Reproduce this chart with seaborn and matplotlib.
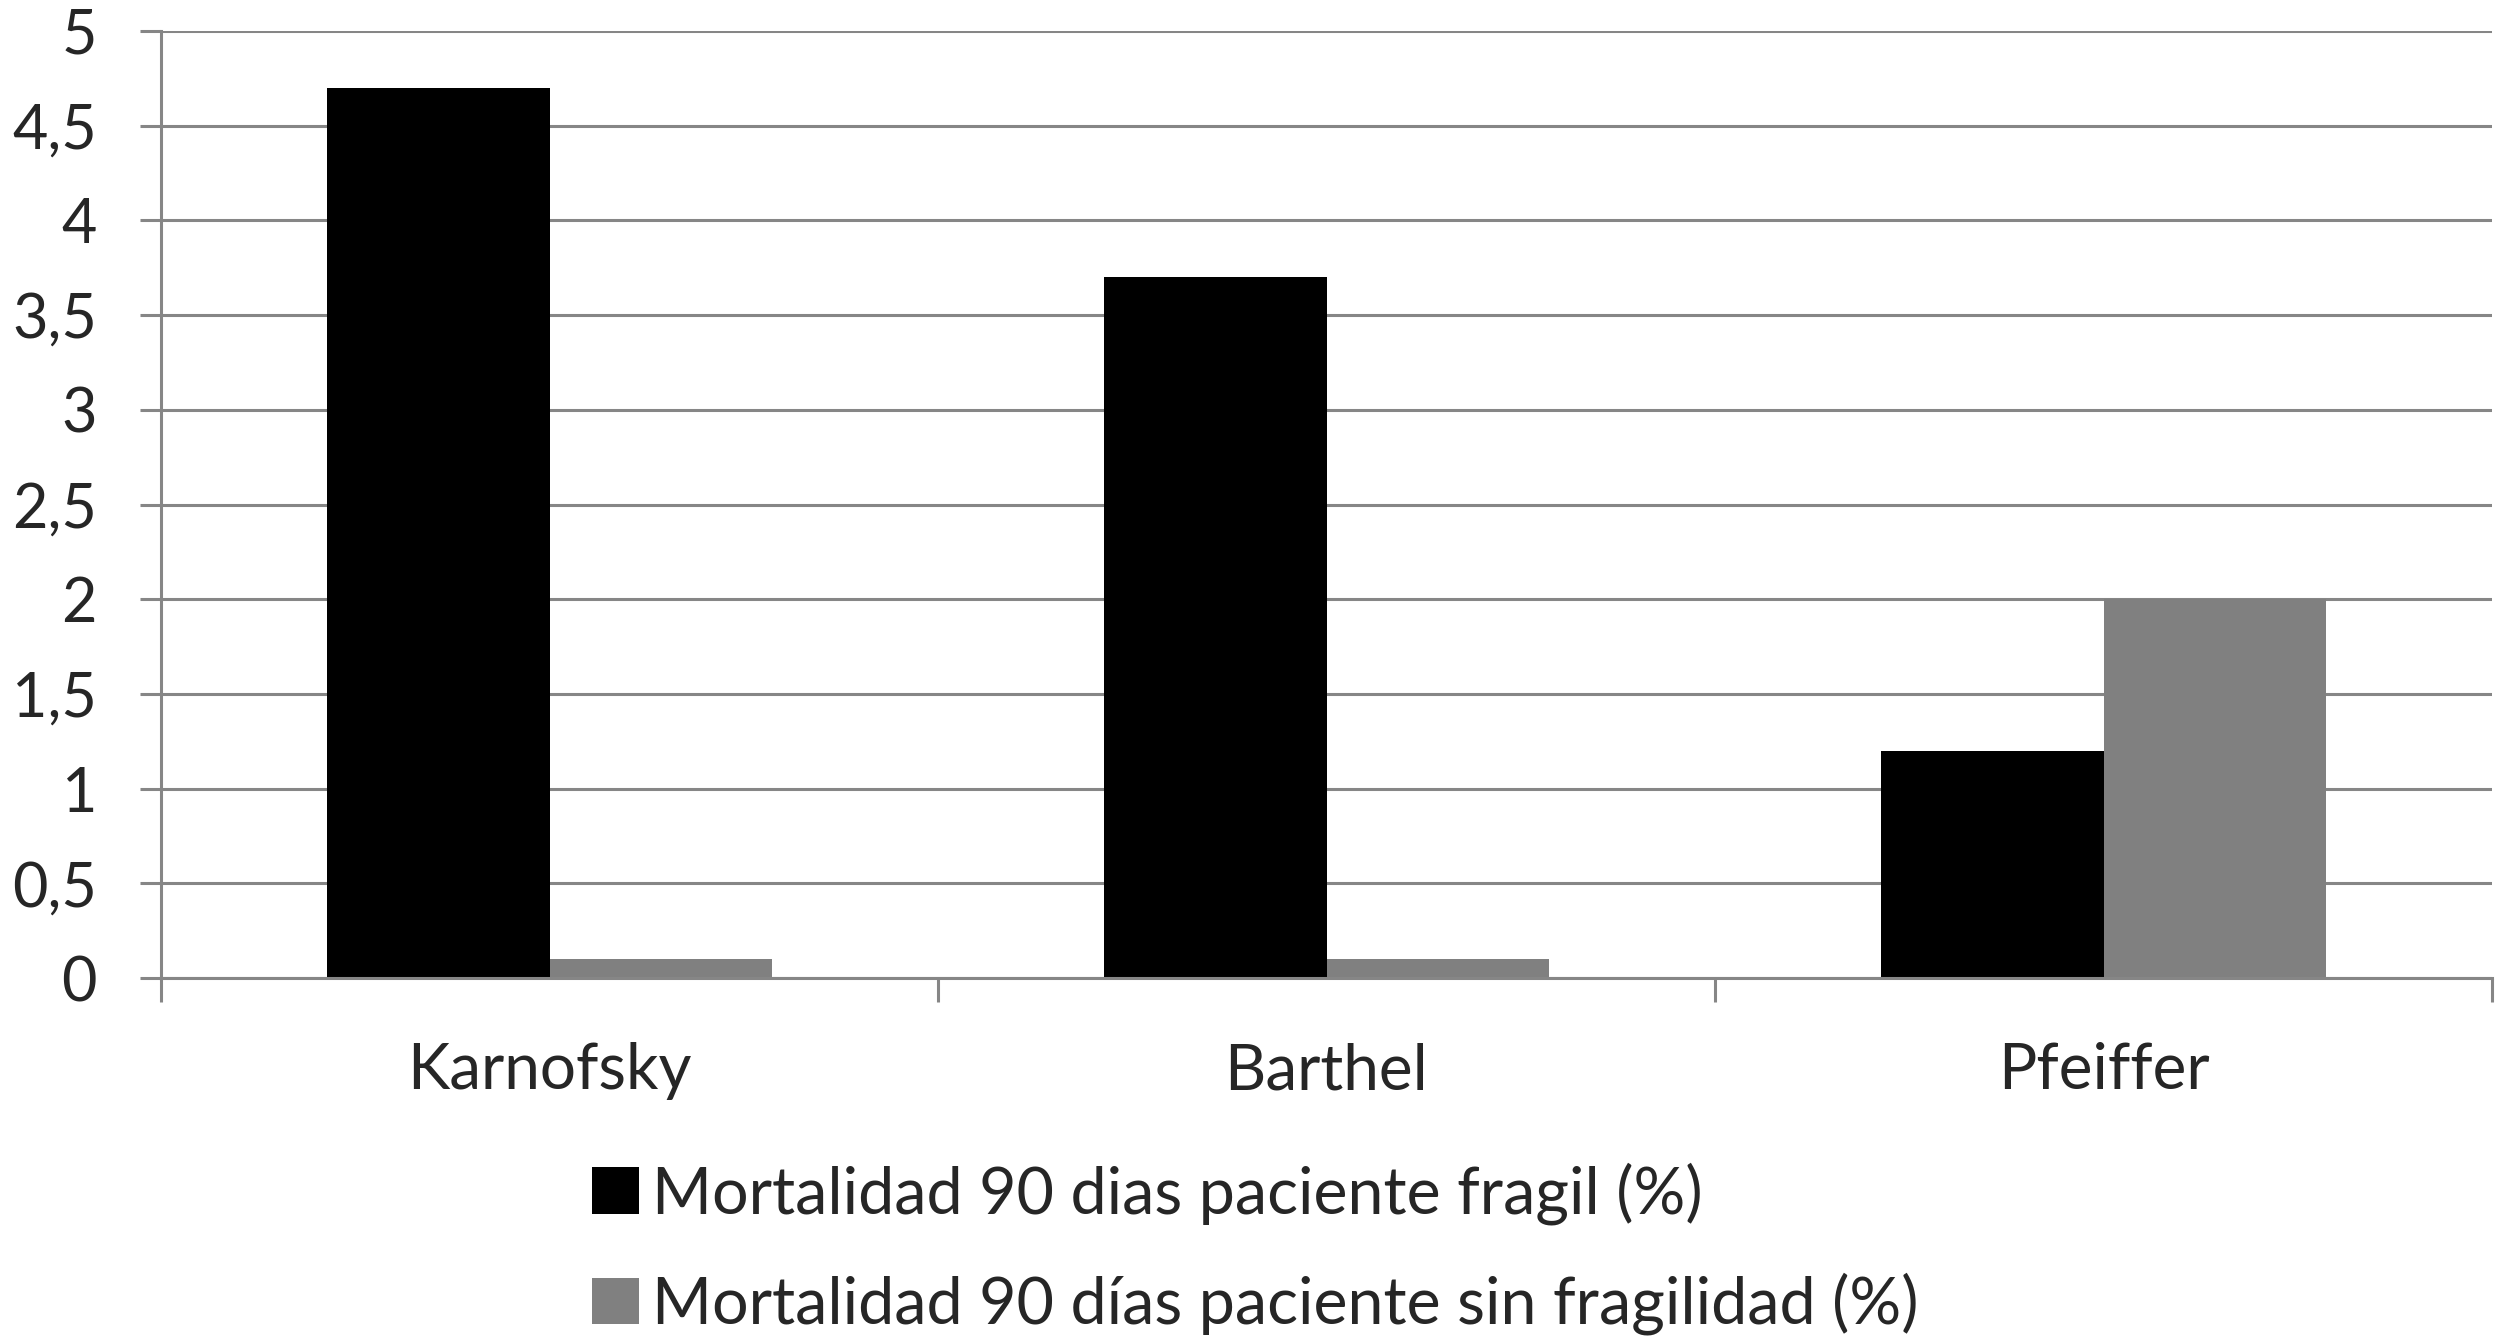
import seaborn as sns
import matplotlib.pyplot as plt
import pandas as pd

categories = ["Karnofsky", "Barthel", "Pfeiffer"]
series_names = ["Mortalidad 90 dias paciente fragil (%)",
                "Mortalidad 90 días paciente sin fragilidad (%)"]
fragil = [4.7, 3.7, 1.2]
sin_fragilidad = [0.1, 0.1, 2.0]
y_ticks = [0, 0.5, 1, 1.5, 2, 2.5, 3, 3.5, 4, 4.5, 5]
y_tick_labels = ["0", "0,5", "1", "1,5", "2", "2,5", "3", "3,5", "4", "4,5", "5"]

df = pd.DataFrame({
    "Escala": categories * 2,
    "Valor": fragil + sin_fragilidad,
    "Serie": [series_names[0]] * 3 + [series_names[1]] * 3,
})

sns.set_style("white")
plt.rcParams["font.family"] = ["Lato", "DejaVu Sans"]
grid_col = "#868686"

fig = plt.figure(figsize=(25, 13.4), dpi=100)
ax = fig.add_axes([0.0644, 0.270, 0.9324, 0.707])

sns.barplot(data=df, x="Escala", y="Valor", hue="Serie", order=categories,
            hue_order=series_names, palette=["#000000", "#808080"],
            saturation=1, width=0.573, linewidth=0, ax=ax)

ax.set_xlim(-0.5, 2.5)
ax.set_ylim(0, 5)
ax.set_axisbelow(True)
ax.yaxis.grid(True, color=grid_col, linewidth=2.2)
ax.set_yticks(y_ticks)
ax.set_yticklabels(y_tick_labels)
ax.tick_params(axis="y", length=15, width=2.2, color=grid_col, pad=31,
               labelsize=44, left=True)
ax.set_xticks(range(len(categories)))
ax.set_xticklabels(categories)
ax.set_xticks([-0.5, 0.5, 1.5, 2.5], minor=True)
ax.tick_params(axis="x", which="major", length=0, pad=46, labelsize=46)
ax.tick_params(axis="x", which="minor", length=17, width=2.2, color=grid_col,
               bottom=True)
ax.set_xlabel("")
ax.set_ylabel("")
for side in ["top", "right"]:
    ax.spines[side].set_visible(False)
for side in ["left", "bottom"]:
    ax.spines[side].set_color(grid_col)
    ax.spines[side].set_linewidth(2.2)

handles, labels = ax.get_legend_handles_labels()
ax.legend(handles, labels, loc="upper left", bbox_to_anchor=(0.224, 0.157),
          bbox_transform=fig.transFigure, frameon=False, fontsize=46.5,
          handlelength=0.73, handleheight=0.73, handletextpad=0.2,
          labelspacing=0.74, borderpad=0)

fig.savefig("out.png", dpi=100)
